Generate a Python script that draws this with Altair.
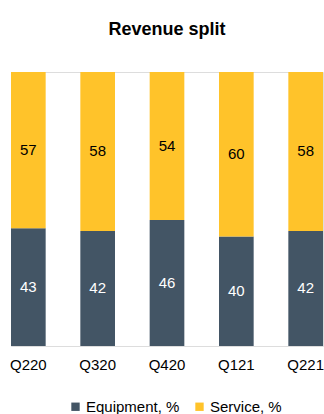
import altair as alt
import pandas as pd

quarters = ["Q220", "Q320", "Q420", "Q121", "Q221"]
equipment = [43, 42, 46, 40, 42]
service = [57, 58, 54, 60, 58]
series_names = ["Equipment, %", "Service, %"]
colors = ["#435565", "#FFC32A"]

rows = []
for q, e, s in zip(quarters, equipment, service):
    rows.append({"q": q, "series": series_names[0], "value": e, "ord": 0})
    rows.append({"q": q, "series": series_names[1], "value": s, "ord": 1})
df = pd.DataFrame(rows)

FONT = "Liberation Sans"

x = alt.X("q:N", sort=quarters, title=None,
          scale=alt.Scale(paddingInner=0.5, paddingOuter=0),
          axis=alt.Axis(domain=False, ticks=False, labelAngle=0, labelFont=FONT,
                        labelFontSize=15, labelColor="#000000", labelPadding=11))

base = alt.Chart(df).transform_stack(
    stack="value", groupby=["q"], as_=["v0", "v1"], sort=[alt.SortField("ord")]
).transform_calculate(mid="(datum.v0 + datum.v1) / 2")

bars = base.mark_bar().encode(
    x=x,
    y=alt.Y("v0:Q", scale=alt.Scale(domain=[0, 100]), axis=None),
    y2="v1:Q",
    color=alt.Color("series:N", sort=series_names,
                    scale=alt.Scale(domain=series_names, range=colors),
                    legend=alt.Legend(title=None, orient="none", direction="horizontal",
                                      legendX=57, legendY=327, symbolType="square",
                                      symbolSize=70, symbolStrokeWidth=0,
                                      labelFont=FONT, labelFontSize=15, labelColor="#000000",
                                      labelOffset=3, columnPadding=12)),
)

texts = base.mark_text(font=FONT, fontSize=15).encode(
    x=alt.X("q:N", sort=quarters),
    y=alt.Y("mid:Q", scale=alt.Scale(domain=[0, 100])),
    text=alt.Text("value:Q"),
    color=alt.condition(alt.datum.ord == 0, alt.value("#FFFFFF"), alt.value("#000000")),
)

chart = (bars + texts).properties(
    width=312, height=274,
    title=alt.TitleParams("Revenue split", font="Liberation Sans", fontSize=18,
                          fontWeight="bold", color="#000000", anchor="middle", offset=33),
    autosize=alt.AutoSizeParams(type="none"),
    padding={"left": 11, "top": 72, "right": 1, "bottom": 68},
).configure_view(stroke=None).configure(background="#FFFFFF")

chart.save("out.html", embed_options={"renderer": "svg", "actions": False})
